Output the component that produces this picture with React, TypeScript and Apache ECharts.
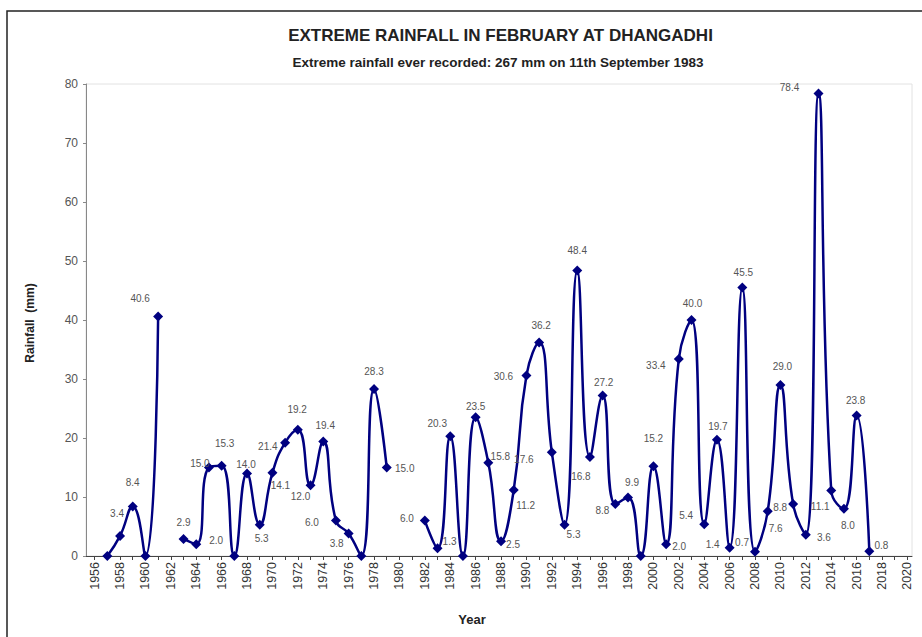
import React, { useEffect, useRef } from "react";
import * as echarts from "echarts";

const years: number[] = [
  1957, 1958, 1959, 1960, 1961, 1962, 1963, 1964, 1965, 1966, 1967, 1968, 1969, 1970,
  1971, 1972, 1973, 1974, 1975, 1976, 1977, 1978, 1979, 1980, 1981, 1982, 1983, 1984,
  1985, 1986, 1987, 1988, 1989, 1990, 1991, 1992, 1993, 1994, 1995, 1996, 1997, 1998,
  1999, 2000, 2001, 2002, 2003, 2004, 2005, 2006, 2007, 2008, 2009, 2010, 2011, 2012,
  2013, 2014, 2015, 2016, 2017,
];

const rainfall: (number | null)[] = [
  0, 3.4, 8.4, 0, 40.6, null, 2.9, 2.0, 15.0, 15.3, 0, 14.0, 5.3, 14.1,
  19.2, 21.4, 12.0, 19.4, 6.0, 3.8, 0, 28.3, 15.0, null, null, 6.0, 1.3, 20.3,
  0, 23.5, 15.8, 2.5, 11.2, 30.6, 36.2, 17.6, 5.3, 48.4, 16.8, 27.2, 8.8, 9.9,
  0, 15.2, 2.0, 33.4, 40.0, 5.4, 19.7, 1.4, 45.5, 0.7, 7.6, 29.0, 8.8, 3.6,
  78.4, 11.1, 8.0, 23.8, 0.8,
];

const tickYears: number[] = [];
for (let y = 1956; y <= 2020; y++) tickYears.push(y);
const labelYears: number[] = tickYears.filter((y) => y % 2 === 0);

const yTicks: number[] = [0, 10, 20, 30, 40, 50, 60, 70, 80];

const TITLE = "EXTREME RAINFALL IN FEBRUARY AT DHANGADHI";
const SUBTITLE = "Extreme rainfall ever recorded: 267 mm on 11th September 1983";
const X_NAME = "Year";
const Y_NAME = "Rainfall  (mm)";

// label placement (pixel offsets of label centre from the marker centre)
const labelOffsets: Record<number, [number, number]> = {
  1958: [-3, -22], 1959: [0, -24], 1961: [-18, -18], 1963: [0, -16], 1964: [20, -4],
  1965: [-9, -4], 1966: [3, -22], 1968: [-1, -9], 1969: [2, 14], 1970: [8, 13],
  1971: [12, -33], 1972: [-30, 17], 1973: [-10, 11], 1974: [2, -16], 1975: [-24, 2],
  1976: [-12, 10], 1978: [0, -18], 1979: [18, 1], 1982: [-18, -2], 1983: [12, -7],
  1984: [-13, -13], 1986: [0, -11], 1987: [12, -6], 1988: [12, 3], 1989: [12, 16],
  1990: [-23, 1], 1991: [2, -17], 1992: [-28, 7], 1993: [9, 10], 1994: [0, -20],
  1995: [-9, 20], 1996: [1, -13], 1997: [-13, 6], 1998: [4, -15], 2000: [0, -28],
  2001: [13, 2], 2002: [-23, 7], 2003: [1, -17], 2004: [-18, -9], 2005: [1, -13],
  2006: [-17, -3], 2007: [1, -15], 2008: [-13, -9], 2009: [8, 17], 2010: [2, -18],
  2011: [-13, 3], 2012: [18, 3], 2013: [-29, -6], 2014: [-11, 16], 2015: [4, 17],
  2016: [-1, -15], 2017: [12, -6],
};

const FONT = "'Liberation Sans', Arial, sans-serif";

export default function App() {
  const ref = useRef<HTMLDivElement>(null);

  useEffect(() => {
    document.body.style.margin = "0";
    if (!ref.current) return;
    const chart = echarts.init(ref.current, undefined, { renderer: "svg" });

    const seriesData = years.map((yr, i) => {
      const v = rainfall[i];
      if (v === null) return { value: [yr, "-"] };
      const off = labelOffsets[yr];
      return {
        value: [yr, v],
        label: {
          show: v !== 0,
          position: "inside",
          offset: off || [0, -14],
        },
      };
    });

    chart.setOption({
      animation: false,
      backgroundColor: "#ffffff",
      textStyle: { fontFamily: FONT },
      grid: {
        left: 86,
        right: 10,
        top: 84,
        bottom: 81,
        show: true,
        borderColor: "#e2e2e2",
        borderWidth: 1,
        backgroundColor: "transparent",
      },
      xAxis: {
        type: "value",
        min: 1955.32,
        max: 2020.36,
        axisLine: { show: true, lineStyle: { color: "#444", width: 1 } },
        axisTick: {
          show: true,
          customValues: tickYears,
          length: 4,
          lineStyle: { color: "#444" },
        },
        minorTick: { show: false },
        axisLabel: {
          customValues: labelYears,
          rotate: 90,
          fontSize: 12.5,
          color: "#333",
          margin: 6,
          fontFamily: FONT,
          formatter: (v: number) => String(Math.round(v)),
        },
        splitLine: { show: false },
      },
      yAxis: {
        type: "value",
        min: 0,
        max: 80,
        interval: 10,
        axisLine: { show: true, lineStyle: { color: "#888", width: 1 } },
        axisTick: { show: true, length: 3, lineStyle: { color: "#888" } },
        axisLabel: {
          fontSize: 12,
          color: "#555",
          margin: 8,
          fontFamily: FONT,
          customValues: yTicks,
        },
        splitLine: { show: false },
      },
      series: [
        {
          type: "line",
          data: seriesData,
          smooth: 0.5,
          connectNulls: false,
          symbol: "diamond",
          symbolSize: 10,
          lineStyle: { color: "#000080", width: 2.5 },
          itemStyle: { color: "#000080" },
          label: {
            show: true,
            position: "inside",
            fontSize: 10,
            color: "#555",
            fontFamily: FONT,
            formatter: (p: any) => Number(p.value[1]).toFixed(1),
          },
          emphasis: { disabled: true },
        },
      ],
      graphic: [
        {
          type: "rect",
          shape: { x: 7, y: 11, width: 940, height: 660 },
          style: { fill: "none", stroke: "#222", lineWidth: 1.5 },
          silent: true,
        },
        {
          type: "text",
          x: 500.5,
          y: 35.7,
          style: {
            text: TITLE,
            font: `bold 17px ${FONT}`,
            fill: "#222",
            align: "center",
            verticalAlign: "middle",
          },
        },
        {
          type: "text",
          x: 498,
          y: 62.7,
          style: {
            text: SUBTITLE,
            font: `bold 13.5px ${FONT}`,
            fill: "#222",
            align: "center",
            verticalAlign: "middle",
          },
        },
        {
          type: "text",
          x: 472,
          y: 619,
          style: {
            text: X_NAME,
            font: `bold 13px ${FONT}`,
            fill: "#222",
            align: "center",
            verticalAlign: "middle",
          },
        },
        {
          type: "text",
          x: 30,
          y: 323,
          rotation: Math.PI / 2,
          style: {
            text: Y_NAME,
            font: `bold 12px ${FONT}`,
            fill: "#222",
            align: "center",
            verticalAlign: "middle",
          },
        },
      ],
    });

    return () => {
      chart.dispose();
    };
  }, []);

  return <div ref={ref} style={{ width: 922, height: 637 }} />;
}
